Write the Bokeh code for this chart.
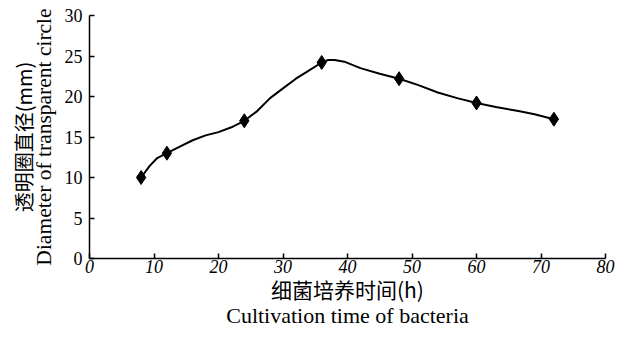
from bokeh.plotting import figure
from bokeh.models import Range1d, FixedTicker, LinearAxis
from bokeh.embed import file_html
from bokeh.resources import INLINE

# measured points
time_h = [8, 12, 24, 36, 48, 60, 72]
diameter_mm = [10.0, 13.0, 17.0, 24.2, 22.2, 19.2, 17.2]

# smooth curve
curve_x = [8, 9.3, 10.5, 12, 14, 16, 18, 20, 22, 24, 26, 28, 30, 32, 34, 36, 37, 38, 39.5, 42, 45, 48, 51, 54, 57, 60, 63, 66.5, 69, 72]
curve_y = [10.0, 11.4, 12.4, 13.0, 13.8, 14.6, 15.2, 15.6, 16.2, 17.0, 18.2, 19.8, 21.0, 22.2, 23.2, 24.2, 24.5, 24.5, 24.3, 23.5, 22.8, 22.2, 21.4, 20.5, 19.8, 19.2, 18.7, 18.2, 17.8, 17.2]

x_ticks = [0, 10, 20, 30, 40, 50, 60, 70, 80]
y_ticks = [0, 5, 10, 15, 20, 25, 30]

x_label_cn = "细菌培养时间(h)"
x_label_en = "Cultivation time of bacteria"
y_label_cn = "透明圈直径(mm)"
y_label_en = "Diameter of transparent circle"

p = figure(width=615, height=331, output_backend="svg", toolbar_location=None,
           x_range=Range1d(0, 80), y_range=Range1d(0, 30),
           min_border_left=89, min_border_right=10, min_border_top=15, min_border_bottom=73)
p.outline_line_color = None
p.xgrid.visible = False
p.ygrid.visible = False
p.background_fill_color = "white"
p.border_fill_color = "white"

p.line(curve_x, curve_y, line_color="black", line_width=2)
p.scatter(time_h, diameter_mm, marker="diamond", size=14, fill_color="black", line_color="black")

for ax in (p.xaxis[0], p.yaxis[0]):
    ax.axis_line_color = "black"
    ax.axis_line_width = 1.5
    ax.major_tick_in = 5
    ax.major_tick_out = 0
    ax.minor_tick_line_color = None
    ax.major_tick_line_color = "black"
    ax.major_tick_line_width = 1.5
    ax.major_label_text_font = "Liberation Serif"
    ax.major_label_text_font_size = "18px"
    ax.major_label_text_color = "black"
    ax.axis_label_text_font = "Liberation Serif"
    ax.axis_label_text_font_style = "normal"
    ax.axis_label_text_color = "black"

p.xaxis.ticker = FixedTicker(ticks=x_ticks)
p.yaxis.ticker = FixedTicker(ticks=y_ticks)
p.xaxis.major_label_text_font_style = "italic"
p.xaxis.major_label_standoff = 1
p.yaxis.major_label_standoff = 7

# inner labels
p.xaxis[0].axis_label = x_label_cn
p.xaxis[0].axis_label_text_font = "Noto Sans CJK SC"
p.xaxis[0].axis_label_text_font_size = "21px"
p.xaxis[0].axis_label_standoff = -2
p.yaxis[0].axis_label = y_label_en
p.yaxis[0].axis_label_text_font_size = "21.5px"
p.yaxis[0].axis_label_standoff = 6


def label_axis(text, font, size, standoff):
    ax = LinearAxis()
    ax.ticker = FixedTicker(ticks=[])
    ax.axis_line_color = None
    ax.major_tick_line_color = None
    ax.minor_tick_line_color = None
    ax.major_tick_in = 0
    ax.major_tick_out = 0
    ax.major_label_text_font_size = "0px"
    ax.major_label_standoff = 0
    ax.axis_label = text
    ax.axis_label_text_font = font
    ax.axis_label_text_font_size = size
    ax.axis_label_text_font_style = "normal"
    ax.axis_label_text_color = "black"
    ax.axis_label_standoff = standoff
    return ax


p.add_layout(label_axis(x_label_en, "Liberation Serif", "22px", -4), "below")
p.add_layout(label_axis(y_label_cn, "Noto Sans CJK SC", "20px", -9), "left")

open("out.html", "w").write(file_html(p, INLINE))
